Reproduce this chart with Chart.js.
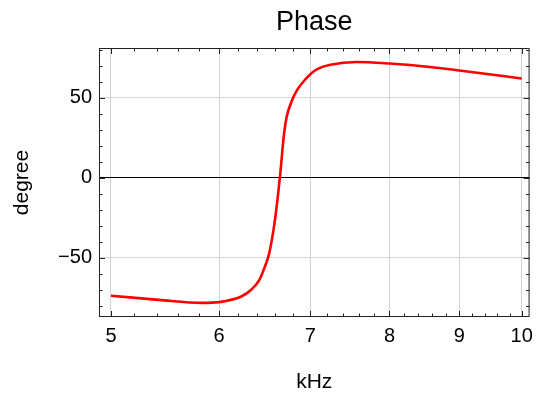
<!DOCTYPE html>
<html>
<head>
<meta charset="utf-8">
<title>Phase</title>
<script src="https://cdn.jsdelivr.net/npm/chart.js@4"></script>
<style>
  body { margin: 0; background: #fff; }
  #wrap { width: 540px; height: 398px; }
</style>
</head>
<body>
<div id="wrap"><canvas id="phase" width="540" height="398"></canvas></div>
<script>
// frequency (kHz) and phase (degree)
const freq  = [5.0, 5.42, 5.83, 6.0, 6.23, 6.335, 6.423, 6.484, 6.531, 6.595, 6.649, 6.697, 6.727, 6.791, 6.848, 6.943, 7.02, 7.1, 7.24, 7.57, 8.0, 8.6, 9.0, 10.0];
const phase = [-73.7, -76.3, -78.2, -77.7, -74.2, -70, -63.8, -55.4, -47.1, -26, 0, 27.9, 38.3, 48.8, 55, 61.5, 65.6, 68.3, 70.6, 72.3, 71.3, 69, 67, 62];

const xTicks = [5, 6, 7, 8, 9, 10];
const yTicks = [-50, 0, 50];
const xMinor = [5.2, 5.4, 5.6, 5.8, 6.2, 6.4, 6.6, 6.8, 7.2, 7.4, 7.6, 7.8, 8.2, 8.4, 8.6, 8.8, 9.2, 9.4, 9.6, 9.8];
const yMinor = [-80, -70, -60, -40, -30, -20, -10, 10, 20, 30, 40, 60, 70, 80];

const FONT = 'Liberation Sans, Arial, sans-serif';

// frame with inward ticks on all four sides
const frame = {
  id: 'frame',
  afterDraw(chart) {
    const { ctx, chartArea: a, scales: { x, y } } = chart;
    ctx.save();
    ctx.strokeStyle = '#222';
    ctx.lineWidth = 1;
    ctx.strokeRect(a.left + 0.5, a.top + 0.5, a.right - a.left - 1, a.bottom - a.top - 1);
    ctx.beginPath();
    const tx = (v, len) => {
      const px = Math.round(x.getPixelForValue(v)) + 0.5;
      ctx.moveTo(px, a.bottom); ctx.lineTo(px, a.bottom - len);
      ctx.moveTo(px, a.top); ctx.lineTo(px, a.top + len);
    };
    const ty = (v, len) => {
      const py = Math.round(y.getPixelForValue(v)) + 0.5;
      ctx.moveTo(a.left, py); ctx.lineTo(a.left + len, py);
      ctx.moveTo(a.right, py); ctx.lineTo(a.right - len, py);
    };
    xTicks.forEach(v => tx(v, 6));
    xMinor.forEach(v => tx(v, 3.5));
    yTicks.forEach(v => ty(v, 6));
    yMinor.forEach(v => ty(v, 3.5));
    ctx.stroke();
    ctx.restore();
  }
};

new Chart(document.getElementById('phase'), {
  type: 'line',
  data: {
    datasets: [{
      data: freq.map((f, i) => ({ x: f, y: phase[i] })),
      borderColor: '#ff0000',
      borderWidth: 2.6,
      pointRadius: 0,
      cubicInterpolationMode: 'monotone'
    }]
  },
  options: {
    responsive: false,
    animation: false,
    devicePixelRatio: 1,
    layout: { padding: { left: 0, right: 8, top: 0, bottom: 0 } },
    plugins: {
      legend: { display: false },
      tooltip: { enabled: false },
      title: {
        display: true,
        text: 'Phase',
        fullSize: false,
        color: '#000',
        font: { family: FONT, size: 27, weight: 'normal' },
        padding: { top: 6, bottom: 9.6 }
      }
    },
    scales: {
      x: {
        type: 'logarithmic',
        min: 4.926,
        max: 10.134,
        afterBuildTicks: s => { s.ticks = xTicks.map(v => ({ value: v })); },
        afterFit: s => { s.height = 81; },
        ticks: {
          callback: v => String(v),
          color: '#000',
          font: { family: FONT, size: 20 },
          padding: 7,
          maxRotation: 0,
          autoSkip: false
        },
        grid: { color: '#d4d4d4', drawTicks: false },
        border: { display: false },
        title: {
          display: true,
          text: 'kHz',
          color: '#000',
          font: { family: FONT, size: 21 },
          padding: { top: 0, bottom: 3.4 }
        }
      },
      y: {
        min: -87,
        max: 81,
        afterBuildTicks: s => { s.ticks = yTicks.map(v => ({ value: v })); },
        afterFit: s => { s.width = 99; },
        ticks: {
          callback: v => v < 0 ? '\u2212' + Math.abs(v) : String(v),
          color: '#000',
          font: { family: FONT, size: 20 },
          padding: 7
        },
        grid: {
          color: c => c.tick && c.tick.value === 0 ? '#000' : '#d4d4d4',
          drawTicks: false
        },
        border: { display: false },
        title: {
          display: true,
          text: 'degree',
          color: '#000',
          font: { family: FONT, size: 21 },
          padding: { top: 9.4, bottom: 0 }
        }
      }
    }
  },
  plugins: [frame]
});
</script>
</body>
</html>
